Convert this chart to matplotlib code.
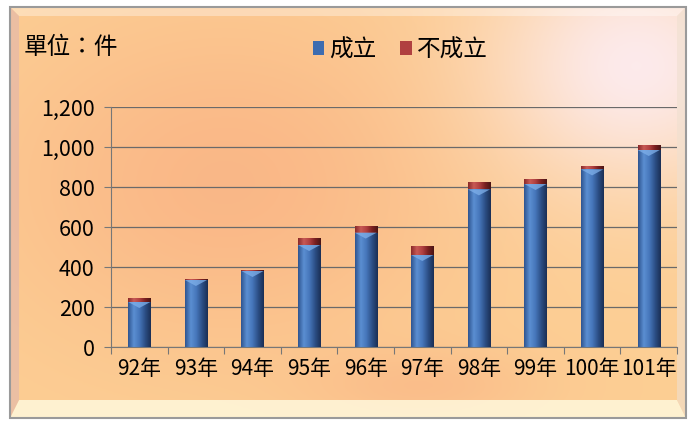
import numpy as np
import matplotlib.pyplot as plt
from matplotlib.patches import Polygon, Rectangle
from matplotlib.colors import LinearSegmentedColormap

plt.rcParams['font.family'] = ['Noto Sans CJK TC', 'DejaVu Sans']

years = ["92年", "93年", "94年", "95年", "96年", "97年", "98年", "99年", "100年", "101年"]
established = [225, 335, 380, 510, 572, 460, 788, 815, 888, 985]
not_established = [20, 5, 5, 33, 35, 45, 35, 25, 17, 25]
yticks = [0, 200, 400, 600, 800, 1000, 1200]
ytick_labels = ["0", "200", "400", "600", "800", "1,000", "1,200"]

W, H = 690, 422
fig = plt.figure(figsize=(W / 100, H / 100), dpi=100)
fig.patch.set_facecolor("white")

# background panel with warm gradient
bg = fig.add_axes([0, 0, 1, 1])
bg.set_xlim(0, W)
bg.set_ylim(H, 0)
bg.axis("off")
xx, yy = np.meshgrid(np.linspace(0, W, 345), np.linspace(0, H, 211))
base = np.array([0.99, 0.81, 0.58])
img = np.ones((211, 345, 3)) * base
blob = np.exp(-(((xx - 220) / 230) ** 2 + ((yy - 180) / 170) ** 2))
img += blob[..., None] * (np.array([0.98, 0.72, 0.53]) - base)
blob2 = np.exp(-(((xx - 420) / 120) ** 2 + ((yy - 390) / 40) ** 2))
img += blob2[..., None] * (np.array([0.98, 0.72, 0.53]) - img) * 0.7
glow = np.exp(-(((xx - 640) / 150) ** 2 + ((yy - 60) / 130) ** 2))
img += glow[..., None] * (np.array([0.99, 0.93, 0.96]) - img) * 0.9
img = np.clip(img, 0, 1)
L, R, T, B = 10, 686, 7, 418
bg.imshow(img, extent=[L, R, B, T], aspect="auto", zorder=0)

# bevel edges
bw = 9
bg.add_patch(Polygon([[L, T], [R, T], [R - bw, T + bw], [L + bw, T + bw]],
                     closed=True, fc="white", alpha=0.35, ec="none", zorder=1))
bg.add_patch(Polygon([[L, B], [R, B], [R - bw, B - 18], [L + bw, B - 18]],
                     closed=True, fc="#fff8dc", alpha=0.85, ec="none", zorder=1))
bg.add_patch(Polygon([[L, T], [L + bw, T + bw], [L + bw, B - 18], [L, B]],
                     closed=True, fc="#d8b0b8", alpha=0.45, ec="none", zorder=1))
bg.add_patch(Polygon([[R, T], [R - bw, T + bw], [R - bw, B - 18], [R, B]],
                     closed=True, fc="#f0e0d0", alpha=0.6, ec="none", zorder=1))
bg.add_patch(Rectangle((L, T), R - L, B - T, fc="none", ec="#9a9a9a", lw=1.5, zorder=2))

# chart axes
ax = fig.add_axes([111 / W, (H - 347) / H, (677 - 111) / W, 240 / H])
ax.patch.set_alpha(0)
x = np.arange(len(years))
width = 0.39

blue_cmap = LinearSegmentedColormap.from_list("b", ["#2f5590", "#5b8fd2", "#4676ba", "#2c4f86", "#1a2f55"])
red_cmap = LinearSegmentedColormap.from_list("r", ["#8a2a2a", "#c85a55", "#b04040", "#7a2020", "#4a1515"])
grad = np.linspace(0, 1, 64).reshape(1, -1)

bars1 = ax.bar(x, established, width, color="#3d6cb0", zorder=3)
bars2 = ax.bar(x, not_established, width, bottom=established, color="#b04040", zorder=3)
for bars, cmap in ((bars1, blue_cmap), (bars2, red_cmap)):
    for b in bars:
        x0, y0 = b.get_x(), b.get_y()
        im = ax.imshow(grad, cmap=cmap, extent=[x0, x0 + b.get_width(), y0, y0 + b.get_height()],
                       aspect="auto", zorder=4)
        im.set_clip_path(b)
# light chevron at the top of each blue bar
for b in bars1:
    cx, top = b.get_x() + b.get_width() / 2, b.get_y() + b.get_height()
    hw = b.get_width() / 2
    ax.add_patch(Polygon([[cx - hw, top], [cx + hw, top], [cx, top - 30]], closed=True,
                         fc="#7fb0ea", ec="none", alpha=0.75, zorder=5))

ax.set_xlim(-0.5, len(years) - 0.5)
ax.set_ylim(0, 1200)
ax.set_yticks(yticks)
ax.set_yticklabels(ytick_labels)
ax.set_xticks(np.arange(len(years) + 1) - 0.5, minor=False)
ax.set_xticklabels([])
ax.set_xticks(x, minor=True)
ax.set_xticklabels(years, minor=True)
ax.tick_params(axis="x", which="minor", length=0, pad=8, labelsize=15)
ax.tick_params(axis="x", which="major", length=5, color="#777777", direction="out")
ax.tick_params(axis="y", length=5, color="#777777", labelsize=15.5, pad=7)
ax.yaxis.grid(True, color="#6a6a6a", lw=0.9)
ax.set_axisbelow(True)
for s in ("top", "right"):
    ax.spines[s].set_visible(False)
for s in ("left", "bottom"):
    ax.spines[s].set_color("#777777")

fig.text(24 / W, 1 - 47 / H, "單位：件", fontsize=17, va="center", ha="left")
leg = ax.legend([bars1[0], bars2[0]], ["成立", "不成立"], loc="center",
                bbox_to_anchor=((400 - 111) / (677 - 111), 1 + (347 - 50 - 240) / 240),
                ncol=2, frameon=False, fontsize=17, handlelength=0.5, handleheight=0.5,
                handletextpad=0.2, columnspacing=1.0)

fig.savefig("out.png", dpi=100)
